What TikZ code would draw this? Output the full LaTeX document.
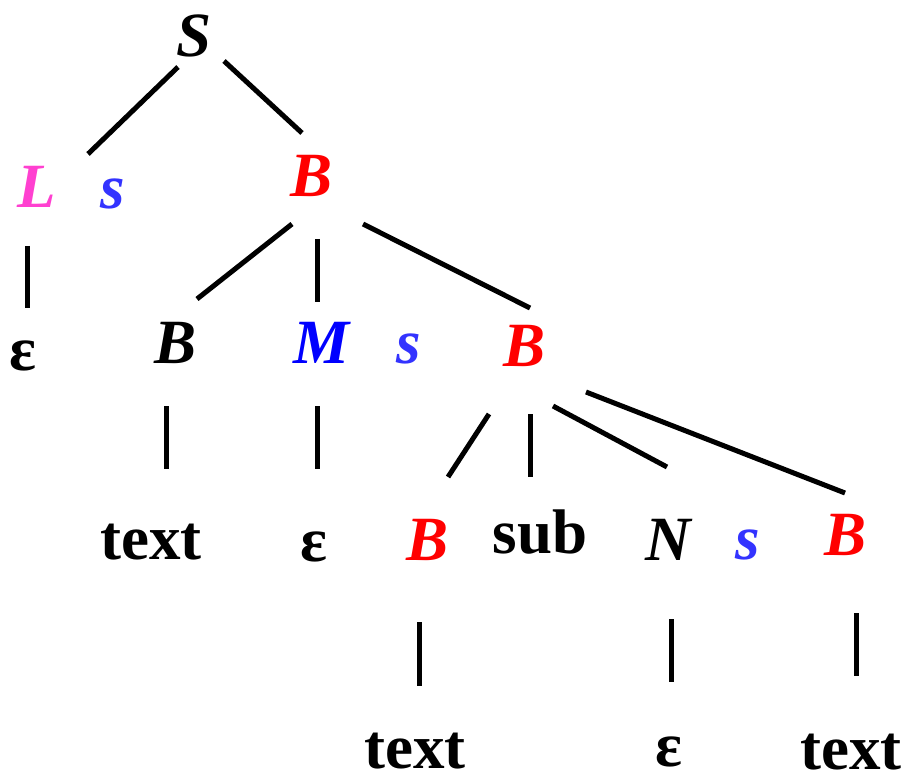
\documentclass[tikz,border=0pt]{standalone}
\usepackage{fontspec}
\setmainfont{Liberation Serif}
\usepackage{xcolor}
\usepackage{tikz}
\definecolor{symred}{RGB}{255,0,0}
\definecolor{symblue}{RGB}{0,0,255}
\definecolor{sepblue}{RGB}{51,51,255}
\definecolor{listpink}{RGB}{255,64,208}

\begin{document}
\begin{tikzpicture}[
  x=1pt, y=-1pt,
  sym/.style={font=\fontsize{63}{63}\selectfont\bfseries\itshape,
              anchor=base, inner sep=0pt},
  term/.style={font=\fontsize{63}{63}\selectfont\bfseries,
               anchor=base, inner sep=0pt},
  sepsym/.style={sym, text=sepblue},
  branch/.style={line width=5pt},
]
  \useasboundingbox (0,0) rectangle (909,783);

  % Level 0 and 1
  \node[sym] (S) at (194,57) {S};
  \node[sym, text=listpink] (L) at (37,208) {L};
  \node[sepsym] (sepA) at (113,209) {s};
  \node[sym, text=symred] (Btop) at (312,197) {B};

  % Level 2
  \node[term] (eps1) at (23,370) {ε};
  \node[sym] (Bleft) at (176,363) {B};
  \node[sym, text=symblue] (M) at (322,363) {M};
  \node[sepsym] (sepB) at (409,363) {s};
  \node[sym, text=symred] (Bmid) at (525,366) {B};

  % Level 3
  \node[term] (txt1) at (151,559) {text};
  \node[term] (eps2) at (314,561) {ε};
  \node[sym, text=symred] (Bsub) at (428,560) {B};
  \node[term] (sub) at (540,553) {sub};
  \node[sym] (N) at (668,560) {N};
  \node[sepsym] (sepC) at (748,559) {s};
  \node[sym, text=symred] (Bright) at (845,555) {B};

  % Level 4
  \node[term] (txt2) at (415,768) {text};
  \node[term] (eps3) at (669,766) {ε};
  \node[term] (txt3) at (851,769) {text};

  % Branches
  \draw[branch] ([shift={(-16,10)}]S.base) -- ([shift={(51,-54)}]L.base);
  \draw[branch] ([shift={(30,4)}]S.base) -- ([shift={(-10,-64)}]Btop.base);
  \draw[branch] ([shift={(-10,38)}]L.base) -- ([shift={(4,-62)}]eps1.base);
  \draw[branch] ([shift={(-20,27)}]Btop.base) -- ([shift={(21,-64)}]Bleft.base);
  \draw[branch] ([shift={(5,42)}]Btop.base) -- ([shift={(-5,-61)}]M.base);
  \draw[branch] ([shift={(51,27)}]Btop.base) -- ([shift={(5,-58)}]Bmid.base);
  \draw[branch] ([shift={(-10,43)}]Bleft.base) -- ([shift={(15,-90)}]txt1.base);
  \draw[branch] ([shift={(-5,43)}]M.base) -- ([shift={(3,-92)}]eps2.base);
  \draw[branch] ([shift={(-36,48)}]Bmid.base) -- ([shift={(20,-83)}]Bsub.base);
  \draw[branch] ([shift={(5,48)}]Bmid.base) -- ([shift={(-10,-76)}]sub.base);
  \draw[branch] ([shift={(28,40)}]Bmid.base) -- ([shift={(-1,-93)}]N.base);
  \draw[branch] ([shift={(61,26)}]Bmid.base) -- ([shift={(0,-62)}]Bright.base);
  \draw[branch] ([shift={(-9,62)}]Bsub.base) -- ([shift={(4,-82)}]txt2.base);
  \draw[branch] ([shift={(3,59)}]N.base) -- ([shift={(2,-84)}]eps3.base);
  \draw[branch] ([shift={(11,58)}]Bright.base) -- ([shift={(5,-93)}]txt3.base);
\end{tikzpicture}
\end{document}
